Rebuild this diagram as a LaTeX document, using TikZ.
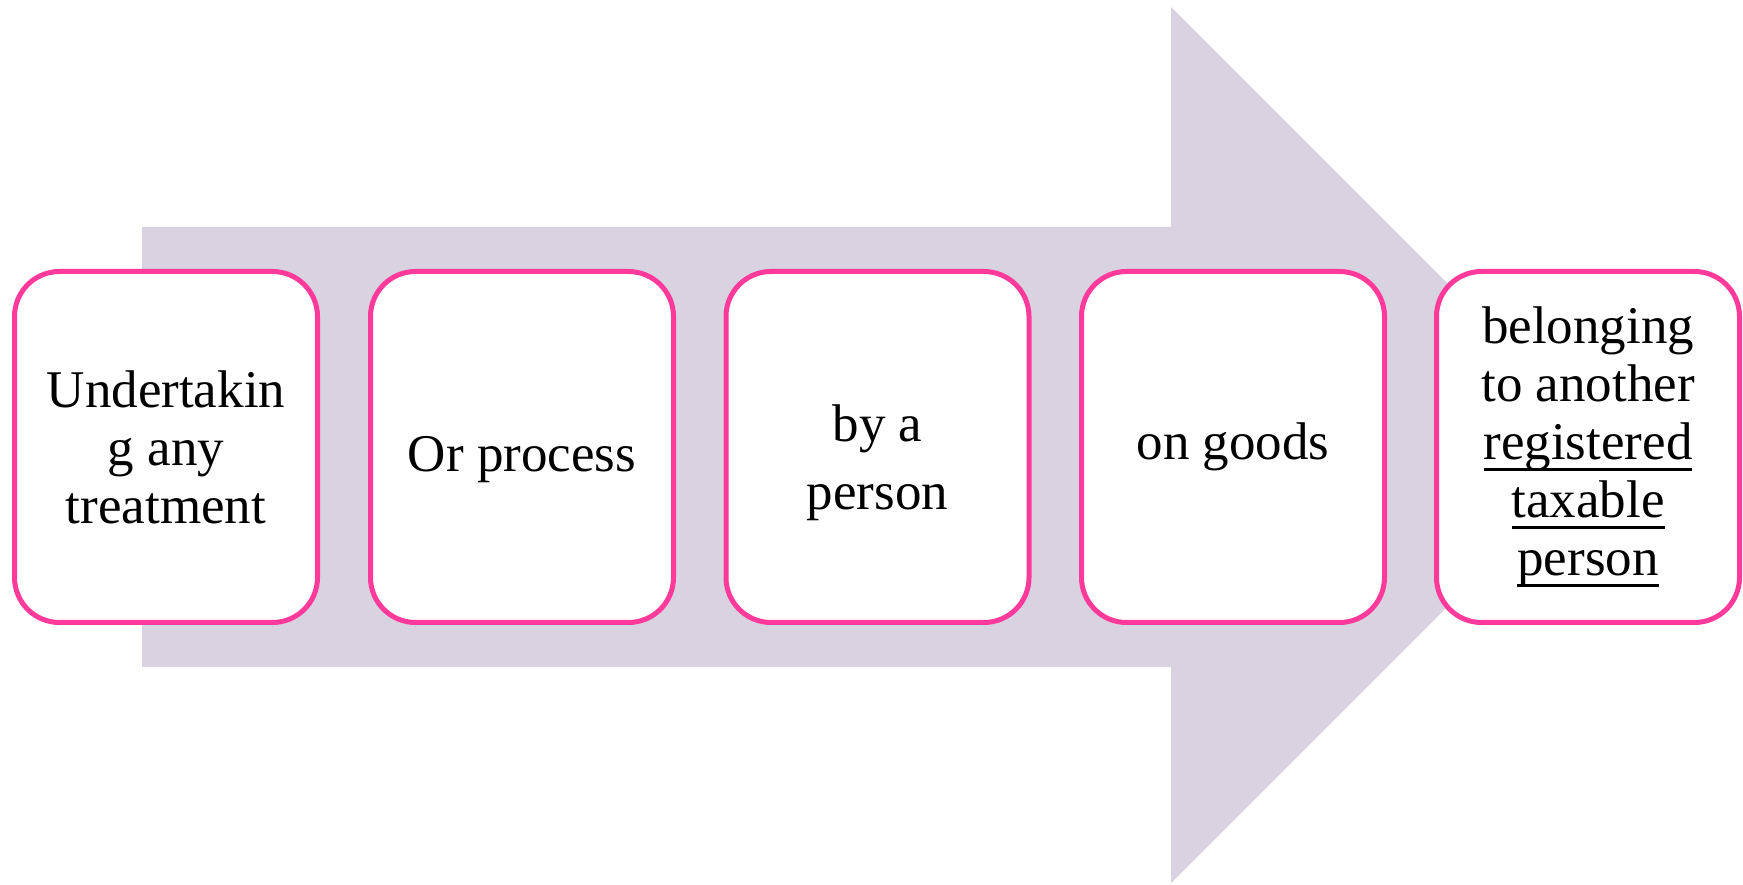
\documentclass[tikz,border=0pt]{standalone}
\usepackage{fontspec}
\setmainfont{Liberation Serif}
\definecolor{boxpink}{HTML}{FF3A9A}
\definecolor{arrowfill}{HTML}{D9D3E1}
\newcommand{\myul}[1]{\setbox0\hbox{#1}\rlap{\rule[-12pt]{\wd0}{3pt}}\box0}
\tikzset{
  stepbox/.style={rectangle, rounded corners=45pt, draw=boxpink, line width=5pt, fill=white,
    minimum width=303pt, minimum height=351pt, inner sep=0pt, align=center,
    font=\fontsize{53pt}{58pt}\selectfont}
}
\begin{document}
\begin{tikzpicture}[x=1pt,y=1pt]
\useasboundingbox (0,0) rectangle (1743,884);
\fill[arrowfill] (142,657) -- (1171,657) -- (1171,877) -- (1609,439) -- (1171,1) -- (1171,217) -- (142,217) -- cycle;
\node[stepbox] (b1) at (166,437) {Undertakin\\g any\\treatment};
\node[stepbox, text height=50pt, text depth=0pt] (b2) at (522,437) {Or process};
\node[stepbox, font=\fontsize{53pt}{68pt}\selectfont, text height=126pt, text depth=0pt] (b3) at (877.5,437) {by a\\person};
\node[stepbox] (b4) at (1233,437) {on goods};
\node[stepbox] (b5) at (1588,437) {belonging\\to another\\\myul{registered}\\\myul{taxable}\\\myul{person}};
\end{tikzpicture}
\end{document}
